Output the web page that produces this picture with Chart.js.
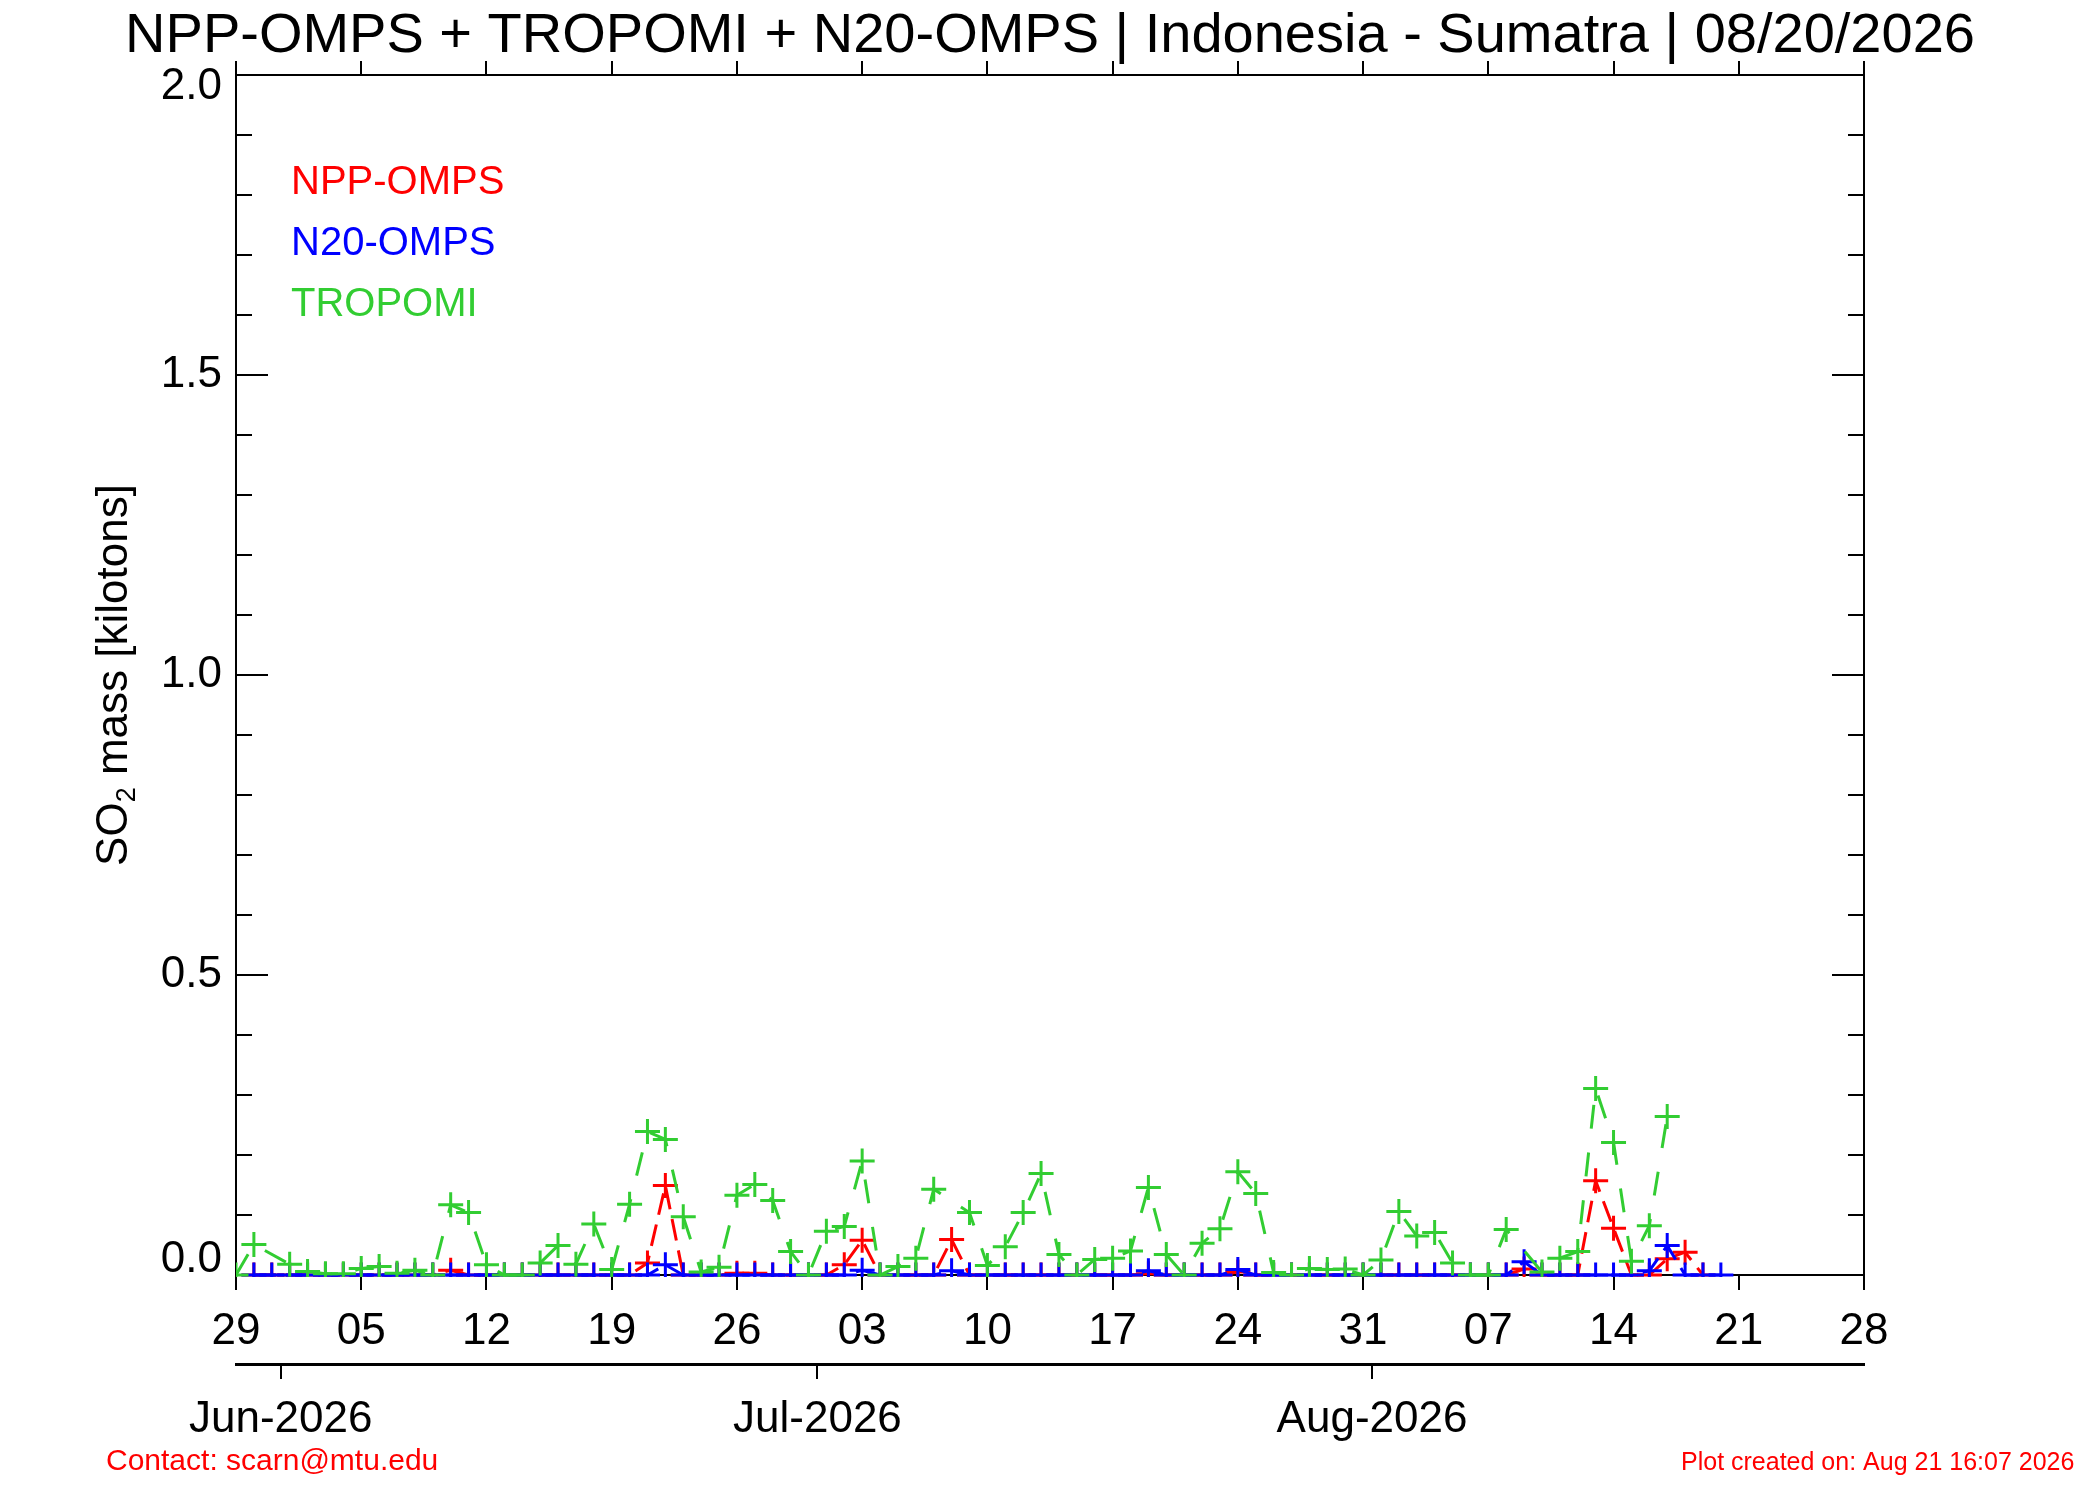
<!DOCTYPE html>
<html>
<head>
<meta charset="utf-8">
<title>SO2 mass - Indonesia - Sumatra</title>
<script src="https://cdn.jsdelivr.net/npm/chart.js@4.4.1/dist/chart.umd.min.js"></script>
<style>
  html, body { margin: 0; padding: 0; background: #fff; }
  #wrap { width: 2100px; height: 1500px; }
</style>
</head>
<body>
<div id="wrap"><canvas id="so2" width="2100" height="1500"></canvas></div>
<script>
// Day offsets are counted from 29 May 2026 (day 0)
const dayTicks = [0, 7, 14, 21, 28, 35, 42, 49, 56, 63, 70, 77, 84, 91];
const dayLabels = ['29', '05', '12', '19', '26', '03', '10', '17', '24', '31', '07', '14', '21', '28'];
const monthTicks = [2.5, 32.5, 63.5];
const monthLabels = ['Jun-2026', 'Jul-2026', 'Aug-2026'];
const yTicks = [0, 0.5, 1.0, 1.5, 2.0];
const yTickLabels = ['0.0', '0.5', '1.0', '1.5', '2.0'];

// SO2 mass in kilotons, one value per day
const tropomiStart = 0;
const tropomi = [
  0, 0.051, null, 0.018, 0.006, 0.002, 0.002,
  0.011, 0.014, 0.003, 0.008, 0, 0.117, 0.104,
  0.017, 0, 0, 0.02, 0.049, 0.018, 0.085,
  0.009, 0.118, 0.239, 0.226, 0.097, 0.005, 0.013,
  0.133, 0.151, 0.124, 0.039, 0, 0.073, 0.081,
  0.19, 0, 0.014, 0.028, 0.143, null, 0.104,
  0.016, 0.047, 0.104, 0.169, 0.034, 0, 0.026,
  0.028, 0.04, 0.146, 0.034, 0, 0.053, 0.077,
  0.172, 0.136, 0.004, 0, 0.011, 0.009, 0.01,
  0, 0.025, 0.106, 0.065, 0.071, 0.02, 0,
  0, 0.076, null, 0.005, 0.028, 0.039, 0.311,
  0.221, 0.023, 0.082, 0.264
];

const n20Start = 1;
const n20 = [
  0, 0, 0, 0, 0, 0,
  0, 0, 0, 0, 0, 0, 0,
  0, 0, 0, 0, 0, 0, 0,
  0, 0, 0, 0.017, 0, 0, 0,
  0, 0, 0, 0, 0, 0, 0,
  0.008, 0, 0, 0, 0, 0.007, 0,
  0, 0, 0, 0, 0, 0, 0,
  0, 0, 0.007, 0, 0, 0, 0,
  0.009, 0, 0, 0, 0, 0, 0,
  0, 0, 0, 0, 0, 0, 0,
  0, 0, 0.022, 0, 0, 0, 0,
  0, 0, 0.007, 0.049, 0, 0, 0
];

const nppStart = 1;
const npp = [
  0, 0, 0, 0, 0, 0,
  0, 0, 0, 0, 0, 0.008, 0,
  0, 0, 0, 0, 0, 0, 0,
  0, 0, 0.02, 0.149, 0, 0, 0,
  0.003, 0.003, 0, 0, 0, 0, 0.017,
  0.058, 0, 0, 0, 0, 0.059, 0,
  0, 0, 0, 0, 0, 0, 0,
  0, 0, 0.002, 0, 0, 0, 0,
  0.005, 0, 0, 0, 0, 0, 0,
  0, 0, 0, 0, 0, 0, 0,
  0, 0, 0.01, 0, 0, 0, 0.157,
  0.078, 0, 0, 0.027, 0.038, 0
];

const FONT = '"Liberation Sans", Arial, Helvetica, sans-serif';
const RED = '#ff0000';
const BLUE = '#0000ff';
const GREEN = '#32cd32';

function toPoints(values, start) {
    return values.map((v, i) => ({ x: start + i, y: v }));
}

function series(label, values, start, color, dash) {
    return {
        label: label,
        data: toPoints(values, start),
        borderColor: color,
        backgroundColor: color,
        borderWidth: 3,
        borderDash: dash,
        pointStyle: 'cross',
        pointRadius: 12.5,
        pointBorderWidth: 3,
        pointBorderColor: color,
        pointHoverRadius: 12.5,
        tension: 0,
        fill: false,
        spanGaps: true,
        clip: { left: 0, top: 0, right: 0, bottom: 2 }
    };
}

// Inward y ticks, y labels, title, legend and footer
const decorations = {
    id: 'decorations',
    beforeDatasetsDraw(chart) {
        const ctx = chart.ctx;
        const area = chart.chartArea;
        const y = chart.scales.y;
        ctx.save();
        ctx.strokeStyle = '#000';
        ctx.lineWidth = 2;
        ctx.beginPath();
        y.ticks.forEach(t => {
            const py = Math.round(y.getPixelForValue(t.value));
            const major = Math.abs(t.value * 2 - Math.round(t.value * 2)) < 1e-6;
            const len = major ? 32 : 16;
            ctx.moveTo(area.left, py);
            ctx.lineTo(area.left + len, py);
            ctx.moveTo(area.right, py);
            ctx.lineTo(area.right - len, py);
        });
        ctx.stroke();
        ctx.restore();
    },
    afterDraw(chart) {
        const ctx = chart.ctx;
        const area = chart.chartArea;
        const y = chart.scales.y;
        ctx.save();
        ctx.fillStyle = '#000';

        // y tick labels, the end ones pulled inside the frame
        ctx.font = '44px ' + FONT;
        ctx.textAlign = 'right';
        ctx.textBaseline = 'middle';
        yTicks.forEach((v, i) => {
            let py = y.getPixelForValue(v);
            if (i === 0) py -= 15;
            if (i === yTicks.length - 1) py += 12;
            ctx.fillText(yTickLabels[i], area.left - 14, py);
        });

        // title
        ctx.textAlign = 'center';
        ctx.textBaseline = 'alphabetic';
        ctx.font = '56px ' + FONT;
        ctx.fillText('NPP-OMPS + TROPOMI + N20-OMPS | Indonesia - Sumatra | 08/20/2026', 1050, 52);

        // y axis title with subscript
        ctx.save();
        ctx.translate(127, (area.top + area.bottom) / 2);
        ctx.rotate(-Math.PI / 2);
        ctx.textAlign = 'left';
        const big = '44px ' + FONT;
        const small = '27px ' + FONT;
        ctx.font = big;
        const wa = ctx.measureText('SO').width;
        const wc = ctx.measureText(' mass [kilotons]').width;
        ctx.font = small;
        const wb = ctx.measureText('2').width;
        let x0 = -(wa + wb + wc) / 2;
        ctx.font = big;
        ctx.fillText('SO', x0, 0);
        ctx.font = small;
        ctx.fillText('2', x0 + wa, 8);
        ctx.font = big;
        ctx.fillText(' mass [kilotons]', x0 + wa + wb, 0);
        ctx.restore();

        // legend
        ctx.textAlign = 'left';
        ctx.font = '40px ' + FONT;
        ctx.fillStyle = RED;
        ctx.fillText('NPP-OMPS', 291, 194);
        ctx.fillStyle = BLUE;
        ctx.fillText('N20-OMPS', 291, 255);
        ctx.fillStyle = GREEN;
        ctx.fillText('TROPOMI', 291, 316);

        // footer
        ctx.fillStyle = RED;
        ctx.font = '30px ' + FONT;
        ctx.fillText('Contact: scarn@mtu.edu', 106, 1470);
        ctx.font = '25px ' + FONT;
        ctx.fillText('Plot created on: Aug 21 16:07 2026', 1681, 1470);
        ctx.restore();
    }
};

const axisFont = { family: FONT, size: 44 };

new Chart(document.getElementById('so2'), {
    type: 'line',
    data: {
        datasets: [
            series('TROPOMI', tropomi, tropomiStart, GREEN, [24, 24]),
            series('N20-OMPS', n20, n20Start, BLUE, [22, 10]),
            series('NPP-OMPS', npp, nppStart, RED, [22, 10])
        ]
    },
    options: {
        responsive: false,
        animation: false,
        devicePixelRatio: 1,
        events: [],
        layout: { padding: { top: 61, right: 236, left: 0, bottom: 0 } },
        plugins: {
            legend: { display: false },
            tooltip: { enabled: false },
            title: { display: false }
        },
        scales: {
            x: {
                type: 'linear',
                position: 'bottom',
                min: 0,
                max: 91,
                afterBuildTicks: s => { s.ticks = dayTicks.map(v => ({ value: v })); },
                afterFit: s => { s.height = 89; },
                ticks: {
                    autoSkip: false,
                    maxRotation: 0,
                    padding: 15,
                    color: '#000',
                    font: axisFont,
                    callback: v => dayLabels[dayTicks.indexOf(v)]
                },
                grid: { drawOnChartArea: false, tickLength: 15, color: '#000', lineWidth: 2 },
                border: { display: true, color: '#000', width: 2 }
            },
            months: {
                type: 'linear',
                position: 'bottom',
                weight: 1,
                min: 0,
                max: 91,
                afterBuildTicks: s => { s.ticks = monthTicks.map(v => ({ value: v })); },
                afterFit: s => { s.height = 136; },
                ticks: {
                    autoSkip: false,
                    maxRotation: 0,
                    padding: 14,
                    color: '#000',
                    font: axisFont,
                    callback: v => monthLabels[monthTicks.indexOf(v)]
                },
                grid: { drawOnChartArea: false, tickLength: 15, color: '#000', lineWidth: 2 },
                border: { display: true, color: '#000', width: 3 }
            },
            xTop: {
                type: 'linear',
                position: 'top',
                min: 0,
                max: 91,
                afterBuildTicks: s => { s.ticks = dayTicks.map(v => ({ value: v })); },
                afterFit: s => { s.height = 14; },
                ticks: { display: false },
                grid: { drawOnChartArea: false, tickLength: 14, color: '#000', lineWidth: 2 },
                border: { display: true, color: '#000', width: 2 }
            },
            y: {
                type: 'linear',
                position: 'left',
                min: 0,
                max: 2,
                afterBuildTicks: s => {
                    const t = [];
                    for (let i = 0; i <= 20; i++) t.push({ value: i / 10 });
                    s.ticks = t;
                },
                afterFit: s => { s.width = 236; },
                ticks: { display: false },
                grid: { display: false },
                border: { display: true, color: '#000', width: 2 }
            },
            yRight: {
                type: 'linear',
                position: 'right',
                min: 0,
                max: 2,
                afterFit: s => { s.width = 0; },
                ticks: { display: false },
                grid: { display: false },
                border: { display: true, color: '#000', width: 2 }
            }
        }
    },
    plugins: [decorations]
});
</script>
</body>
</html>
